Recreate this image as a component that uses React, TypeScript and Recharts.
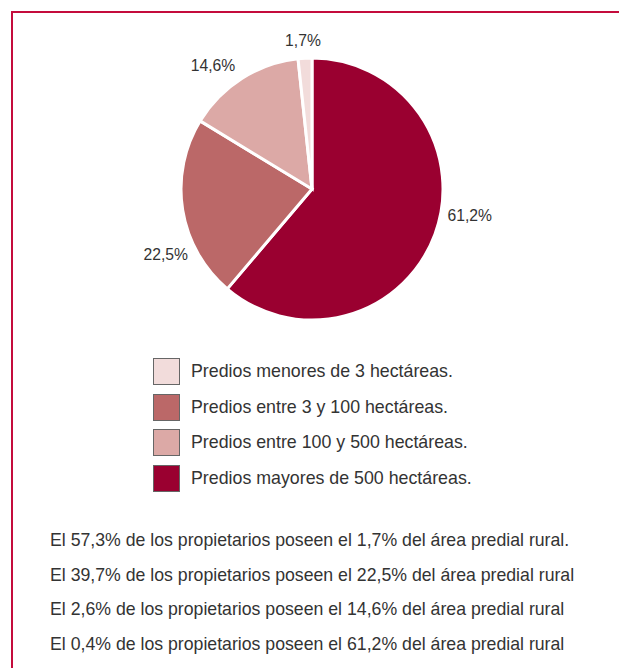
import { PieChart, Pie, Cell, Legend } from 'recharts';

// categorías en el orden del pastel (empieza arriba y gira a la derecha)
const categories = [
  'Predios mayores de 500 hectáreas.',
  'Predios entre 3 y 100 hectáreas.',
  'Predios entre 100 y 500 hectáreas.',
  'Predios menores de 3 hectáreas.',
];
const areaShare = [61.2, 22.5, 14.6, 1.7];
const ownerShare = [0.4, 39.7, 2.6, 57.3];
// orden de la leyenda y de las notas
const legendOrder = [3, 1, 2, 0];

const COLORS = ['#9a0030', '#bb6868', '#dca9a6', '#f2dcdb'];
const FRAME = '#c40c3c';
const FONT = '"Liberation Sans", Arial, sans-serif';

// ajuste fino de las etiquetas: radio y giro respecto al ángulo medio
const LABEL_TWEAK = [
  { r: 160, da: 10.7 },
  { r: 160, da: 14.8 },
  { r: 158, da: 6.4 },
  { r: 149, da: 0.4 },
];

const fmt = (v: number) => v.toFixed(1).replace('.', ',');

const chartData = categories.map((name, i) => ({ name, value: areaShare[i] }));

const RADIAN = Math.PI / 180;

const renderLabel = ({ cx, cy, midAngle, index, value }: any) => {
  const t = LABEL_TWEAK[index];
  const a = (midAngle + t.da) * RADIAN;
  const x = cx + t.r * Math.cos(-a);
  const y = cy + t.r * Math.sin(-a);
  return (
    <text x={x} y={y} textAnchor="middle" dominantBaseline="central" fontSize={15.7} fill="#333" fontFamily={FONT}>
      {fmt(value)}%
    </text>
  );
};

const LegendBox = () => (
  <div style={{ fontFamily: FONT }}>
    {legendOrder.map((i) => (
      <div key={i} style={{ display: 'flex', alignItems: 'center', height: 35.5 }}>
        <div
          style={{
            width: 25,
            height: 25,
            background: COLORS[i],
            border: '1px solid #666',
            marginRight: 11,
          }}
        />
        <span style={{ fontSize: 17.8, color: '#333' }}>{categories[i]}</span>
      </div>
    ))}
  </div>
);

export default function App() {
  return (
    <div style={{ position: 'absolute', left: 0, top: 0, width: 619, height: 668, background: '#fff', overflow: 'hidden' }}>
      <div
        style={{
          position: 'absolute',
          left: 11,
          top: 11,
          width: 620,
          height: 670,
          borderTop: `2px solid ${FRAME}`,
          borderLeft: `2px solid ${FRAME}`,
        }}
      />
      <PieChart
        width={619}
        height={668}
        margin={{ top: 0, right: 0, bottom: 0, left: 0 }}
        style={{ position: 'absolute', left: 0, top: 0 }}
      >
        <Pie
          data={chartData}
          dataKey="value"
          nameKey="name"
          cx={312}
          cy={189}
          outerRadius={131}
          startAngle={90}
          endAngle={-270}
          stroke="#fff"
          strokeWidth={3}
          labelLine={false}
          label={renderLabel}
          isAnimationActive={false}
        >
          {chartData.map((_, i) => (
            <Cell key={`cell-${i}`} fill={COLORS[i]} />
          ))}
        </Pie>
        <Legend
          content={<LegendBox />}
          wrapperStyle={{ position: 'absolute', left: 153, top: 354, width: 400, height: 150 }}
        />
      </PieChart>
      <div style={{ position: 'absolute', left: 50, top: 523, fontFamily: FONT, fontSize: 17.7, color: '#333' }}>
        {legendOrder.map((i, k) => (
          <div key={i} style={{ height: 34.5, lineHeight: '34.5px', whiteSpace: 'nowrap' }}>
            El {fmt(ownerShare[i])}% de los propietarios poseen el {fmt(areaShare[i])}% del área predial rural{k === 0 ? '.' : ''}
          </div>
        ))}
      </div>
    </div>
  );
}
